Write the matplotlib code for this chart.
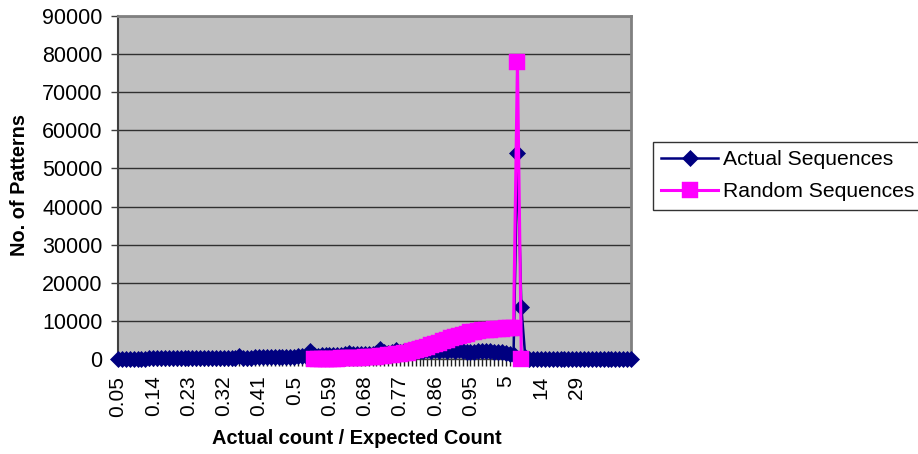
import numpy as np
import matplotlib
matplotlib.use("Agg")
import matplotlib.pyplot as plt

plt.rcParams['font.family'] = ['Liberation Sans', 'DejaVu Sans']

# ---- categories (x axis) ----
categories = [f"{v/100:g}" for v in range(5, 100)]
categories += ["1", "2", "3", "4", "5", "6", "7", "8", "9", "10", "11", "12", "13", "14",
               "15", "16", "17", "18", "19", "20", "22", "25", "29",
               "30", "32", "35", "40", "45", "50", "60", "70", "80", "90", "100", "150", "200", "500"]

# ---- Actual Sequences ----
actual = [100, 100, 110, 110, 120, 120, 130, 130, 140, 140,
          150, 150, 160, 160, 170, 170, 180, 180, 190, 200,
          200, 210, 220, 230, 240, 250, 260, 270, 280, 300,
          350, 800, 380, 350, 380, 400, 420, 440, 460, 480,
          500, 520, 560, 600, 620, 650, 700, 750, 900, 2100,
          1000, 900, 1000, 1050, 1100, 1000, 1150, 1100, 1200, 1600,
          1200, 1300, 1250, 1350, 1300, 1400, 1700, 2600, 1800, 1700,
          1900, 2300, 1900, 2000, 1900, 2500, 2100, 2200, 2100, 2300,
          2200, 2300, 2200, 2300, 2200, 2300, 2200, 2300, 2200, 1800,
          1900, 1950, 2000, 2000, 2000, 2000, 1950, 1900, 1800, 1600,
          1400, 1000, 54000, 13600, 600, 100, 100, 100, 100, 100,
          100, 100, 100, 100, 100, 100, 100, 100, 100, 100,
          100, 100, 100, 100, 100, 100, 100, 100, 100, 100,
          100, 100]

# ---- Random Sequences (starts at category 0.55, ends at category 8) ----
random_start = 50
random_vals = [30, 40, 55, 70, 90, 110, 130, 160, 190, 220,
               260, 300, 350, 400, 460, 530, 600, 700, 800, 930,
               1070, 1200, 1350, 1500, 1700, 2000, 2400, 2650, 2900, 3250,
               3600, 3900, 4200, 4600, 5000, 5400, 5800, 6050, 6300, 6650,
               7000, 7150, 7300, 7500, 7600, 7700, 7800, 7900, 8000, 8050,
               8100, 8150, 78000, 0]

yticks = list(range(0, 90001, 10000))
label_step = 9
last_label = 117

n = len(categories)
x = np.arange(n)
random_full = np.full(n, np.nan)
random_full[random_start:random_start + len(random_vals)] = random_vals

fig = plt.figure(figsize=(9.18, 4.54), dpi=100)
ax = fig.add_axes([118/918, 95/454, 513/918, 343/454])
ax.set_facecolor('#C0C0C0')

ax.plot(x, actual, color='#000080', lw=1.8, marker='D', ms=8.3,
        mfc='#000080', mec='#000080', mew=0.5, label='Actual Sequences', zorder=3,
        clip_on=False)
ax.plot(x, random_full, color='#FF00FF', lw=2.2, marker='s', ms=11.8,
        mfc='#FF00FF', mec='#FF00FF', mew=0.3, label='Random Sequences', zorder=4,
        clip_on=False)

ax.set_xlim(0, n - 1)
ax.set_ylim(0, 90000)
ax.set_yticks(yticks)
ax.set_yticklabels([str(v) for v in yticks])
ax.yaxis.grid(True, color='#303030', lw=1.0)
ax.set_axisbelow(True)

tick_pos = list(range(0, last_label + 1, label_step))
ax.set_xticks(tick_pos)
ax.set_xticklabels([categories[i] for i in tick_pos], rotation=90)
ax.set_xticks(x, minor=True)
ax.tick_params(axis='x', which='both', direction='out', length=5, width=1, color='#202020',
               labelsize=15, pad=7)
ax.tick_params(axis='y', direction='out', length=5, width=1, color='#404040',
               labelsize=15.5, pad=6)

for s in ['top', 'right']:
    ax.spines[s].set_color('#808080')
    ax.spines[s].set_linewidth(2)
ax.spines['left'].set_color('#404040')
ax.spines['left'].set_linewidth(1.5)
ax.spines['bottom'].set_color('#404040')
ax.spines['bottom'].set_linewidth(1)

fig.text(357/918, 1 - 438/454, 'Actual count / Expected Count', ha='center', va='center',
         fontsize=14.4, fontweight='bold')
fig.text(20/918, 1 - 185/454, 'No. of Patterns', ha='center', va='center',
         fontsize=14.4, fontweight='bold', rotation=90)

leg = fig.legend(loc='upper left', bbox_to_anchor=(653/918, 1 - 142/454),
                 fontsize=15.2, frameon=True, fancybox=False, handlelength=2.7,
                 handletextpad=0.2, labelspacing=0.6, borderpad=0.4, borderaxespad=0)
leg.get_frame().set_edgecolor('black')
leg.get_frame().set_linewidth(1)

fig.savefig('out.png', dpi=100)
